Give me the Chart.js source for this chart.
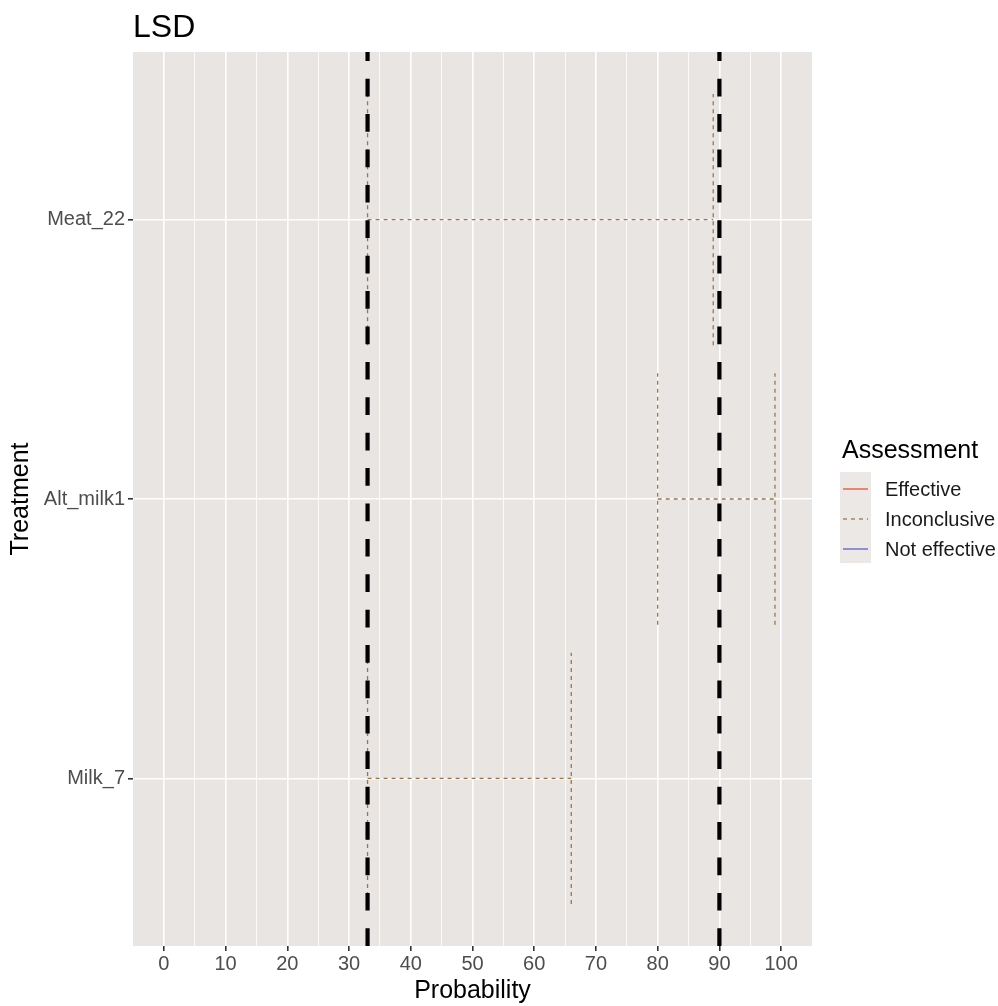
<!DOCTYPE html>
<html>
<head>
<meta charset="utf-8">
<script src="https://cdn.jsdelivr.net/npm/chart.js@4"></script>
<style>
  html, body { margin: 0; padding: 0; background: #ffffff; }
  #wrap { width: 998px; height: 1006px; }
</style>
</head>
<body>
<div id="wrap"><canvas id="myChart" width="998" height="1006"></canvas></div>
<script>
// treatments, bottom to top
var treatments = ['Milk_7', 'Alt_milk1', 'Meat_22'];
var lowerProb = [33, 80, 33];   // left end of interval
var upperProb = [66, 99, 89];   // right end of interval
var assessment = ['Inconclusive', 'Inconclusive', 'Inconclusive'];
var refLines = [33, 90];        // black dashed thresholds
var assessLevels = ['Effective', 'Inconclusive', 'Not effective'];
var assessColors = ['#e8502f', '#9e7646', '#5f5fcc'];

var FONT = "'Liberation Sans', Arial, sans-serif";
var barHeight = 0.9;

function colorOf(level) {
  return assessColors[assessLevels.indexOf(level)];
}

var datasets = [];

// vertical reference lines, from bottom to top
for (var i = 0; i < refLines.length; i++) {
  datasets.push({
    label: 'ref' + i,
    data: [{x: refLines[i], y: 0.4}, {x: refLines[i], y: treatments.length + 0.6}],
    borderColor: '#000000',
    borderWidth: 4.2,
    borderDash: [17.7, 17.7],
    pointRadius: 0,
    showLine: true,
    order: 0
  });
}

// horizontal error bars (whisker, bar, whisker)
for (var i = 0; i < treatments.length; i++) {
  var c = i + 1;
  var lo = lowerProb[i], hi = upperProb[i];
  datasets.push({
    label: treatments[i],
    data: [
      {x: lo, y: c - barHeight / 2}, {x: lo, y: c + barHeight / 2}, {x: lo, y: null},
      {x: lo, y: c}, {x: hi, y: c}, {x: hi, y: null},
      {x: hi, y: c - barHeight / 2}, {x: hi, y: c + barHeight / 2}
    ],
    borderColor: colorOf(assessment[i]),
    borderWidth: 1.3,
    borderDash: [4, 4],
    pointRadius: 0,
    showLine: true,
    spanGaps: false,
    order: 1
  });
}

var panelBg = {
  id: 'panelBg',
  beforeDraw: function (chart) {
    var a = chart.chartArea, ctx = chart.ctx;
    ctx.save();
    ctx.fillStyle = '#e8e5e3';
    ctx.fillRect(a.left, a.top, a.right - a.left, a.bottom - a.top);
    ctx.restore();
  }
};

var extras = {
  id: 'extras',
  afterDraw: function (chart) {
    var ctx = chart.ctx;
    ctx.save();
    // title
    ctx.fillStyle = '#000000';
    ctx.font = '32px ' + FONT;
    ctx.textAlign = 'left';
    ctx.textBaseline = 'alphabetic';
    ctx.fillText('LSD', 133, 37);

    // legend
    ctx.font = '25px ' + FONT;
    ctx.fillText('Assessment', 842, 458);
    ctx.fillStyle = '#ebe8e6';
    ctx.fillRect(840, 472, 31, 91);
    ctx.font = '20px ' + FONT;
    for (var k = 0; k < assessLevels.length; k++) {
      var yy = 489 + k * 30;
      ctx.strokeStyle = assessColors[k];
      ctx.lineWidth = 1.3;
      ctx.setLineDash(assessLevels[k] == 'Inconclusive' ? [4, 4] : []);
      ctx.beginPath();
      ctx.moveTo(843, yy);
      ctx.lineTo(868, yy);
      ctx.stroke();
      ctx.setLineDash([]);
      ctx.fillStyle = '#1a1a1a';
      ctx.textBaseline = 'middle';
      ctx.fillText(assessLevels[k], 885, yy + 1);
    }
    ctx.restore();
  }
};

new Chart('myChart', {
  type: 'scatter',
  data: { datasets: datasets },
  plugins: [panelBg, extras],
  options: {
    responsive: false,
    animation: false,
    devicePixelRatio: 1,
    layout: { padding: { left: 0, top: 52, right: 186, bottom: 0 } },
    plugins: {
      legend: { display: false },
      tooltip: { enabled: false },
      title: { display: false }
    },
    scales: {
      x: {
        type: 'linear',
        min: -5,
        max: 105,
        border: { display: false },
        afterFit: function (scale) { scale.height = 60; },
        grid: {
          drawTicks: true,
          tickLength: 5,
          color: function (ctx) {
            var v = ctx.tick.value;
            if (v < 0 || v > 100) return 'rgba(0,0,0,0)';
            return '#ffffff';
          },
          lineWidth: function (ctx) {
            return ctx.tick.value % 10 === 0 ? 1.6 : 0.8;
          },
          tickColor: function (ctx) {
            var v = ctx.tick.value;
            return (v % 10 === 0 && v >= 0 && v <= 100) ? '#333333' : 'rgba(0,0,0,0)';
          }
        },
        ticks: {
          stepSize: 5,
          autoSkip: false,
          maxRotation: 0,
          padding: 1,
          color: '#4d4d4d',
          font: { family: FONT, size: 20 },
          callback: function (v) {
            return (v % 10 === 0 && v >= 0 && v <= 100) ? String(v) : '';
          }
        },
        title: {
          display: true,
          text: 'Probability',
          color: '#000000',
          font: { family: FONT, size: 25 },
          padding: { top: 0, bottom: 0 }
        }
      },
      y: {
        type: 'linear',
        min: 0.4,
        max: treatments.length + 0.6,
        border: { display: false },
        afterFit: function (scale) { scale.width = 133; },
        afterBuildTicks: function (scale) {
          scale.ticks = treatments.map(function (t, i) { return {value: i + 1}; });
        },
        grid: {
          color: '#ffffff',
          lineWidth: 1.6,
          tickLength: 5,
          tickColor: '#333333'
        },
        ticks: {
          padding: 3,
          color: '#4d4d4d',
          font: { family: FONT, size: 20 },
          callback: function (v) { return treatments[Math.round(v) - 1]; }
        },
        title: {
          display: true,
          text: 'Treatment',
          color: '#000000',
          font: { family: FONT, size: 25 },
          padding: { top: 6, bottom: 0 }
        }
      }
    }
  }
});
</script>
</body>
</html>
